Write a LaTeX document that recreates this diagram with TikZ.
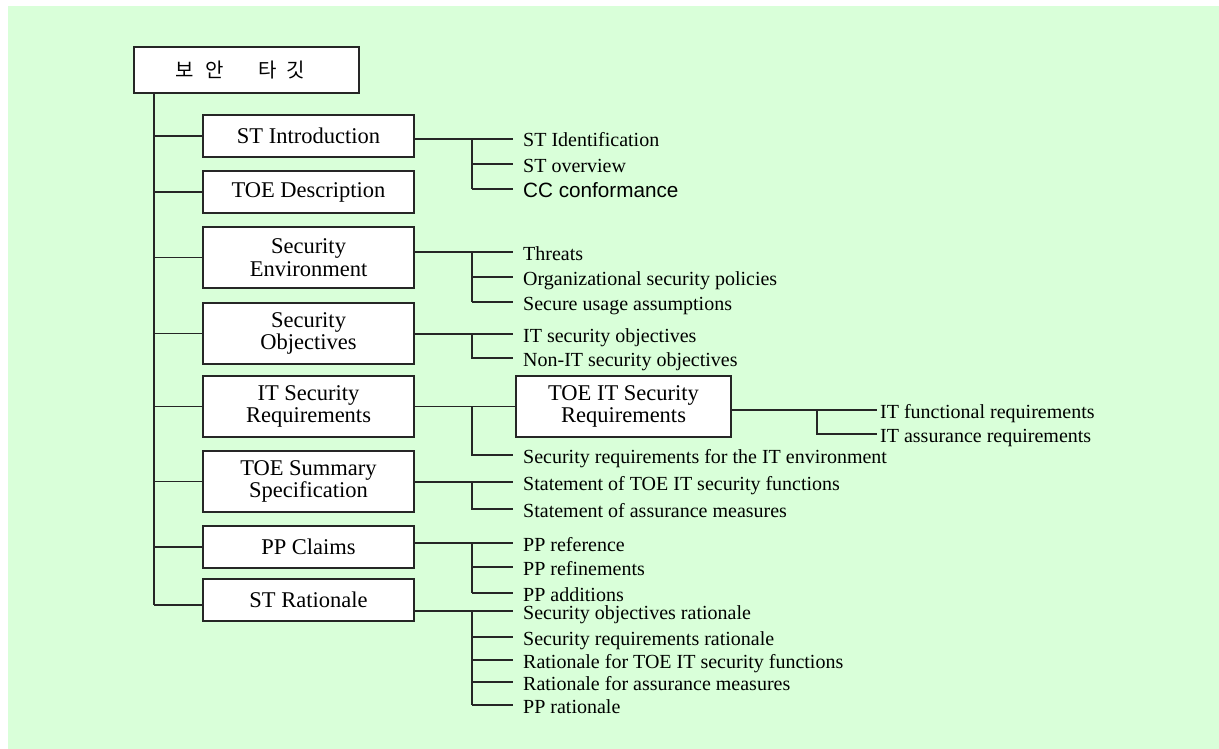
\documentclass[tikz,border=0pt]{standalone}
\usepackage{fontspec}
\setmainfont{Liberation Serif}
\newfontfamily\krfont{Noto Sans CJK KR}
\newfontfamily\sansfnt{Liberation Sans}
\definecolor{bggreen}{RGB}{217,255,217}
\begin{document}
\begin{tikzpicture}[x=1pt,y=-1pt,
  box/.style={draw=black!85, line width=1.2pt, fill=white, minimum width=211pt,
    minimum height=42pt, inner sep=0pt, align=center,
    font=\fontsize{22.5pt}{22.7pt}\selectfont},
  tall/.style={box, minimum height=61pt},
  item/.style={anchor=west, inner xsep=10pt, inner ysep=0pt, text height=18pt,
    text depth=2pt, font=\fontsize{20pt}{22pt}\selectfont},
  conn/.style={line width=1.2pt, draw=black!85}]

\useasboundingbox (0,0) rectangle (1219,749);
\fill[bggreen] (8,6) rectangle (1219,749);

% main boxes
\node[box, minimum width=225pt, minimum height=46pt,
  font=\krfont\fontsize{20pt}{22pt}\selectfont] (title) at (246.5,70)
  {보\hspace{11pt}안\hspace{35pt}타\hspace{10pt}깃\kern12pt};
\node[box]  (sti)   at (308.5,136)   {ST Introduction};
\node[box]  (toed)  at (308.5,192)   {TOE Description};
\node[tall] (senv)  at (308.5,257.5) {Security\\Environment};
\node[tall] (sobj)  at (308.5,333.5) {Security\\Objectives};
\node[tall] (itsr)  at (308.5,406.5) {IT Security\\Requirements};
\node[tall] (toess) at (308.5,481.5) {TOE Summary\\Specification};
\node[box]  (ppc)   at (308.5,547)   {PP Claims};
\node[box]  (str)   at (308.5,600)   {ST Rationale};
\node[tall, minimum width=215pt] (tit) at (623.5,406.5) {TOE IT Security\\Requirements};

% items
\node[item] (a1) at (513,139) {ST Identification};
\node[item] (a2) at (513,164) {ST overview};
\node[item, font=\sansfnt\fontsize{20.7pt}{22pt}\selectfont] (a3) at (513,189) {CC conformance};
\node[item] (b1) at (513,252) {Threats};
\node[item] (b2) at (513,277) {Organizational security policies};
\node[item] (b3) at (513,302) {Secure usage assumptions};
\node[item] (c1) at (513,334) {IT security objectives};
\node[item] (c2) at (513,358) {Non-IT security objectives};
\node[item] (d1) at (513,455) {Security requirements for the IT environment};
\node[item, inner xsep=3pt] (e1) at (877,410) {IT functional requirements};
\node[item, inner xsep=3pt] (e2) at (877,434) {IT assurance requirements};
\node[item] (g1) at (513,482) {Statement of TOE IT security functions};
\node[item] (g2) at (513,509) {Statement of assurance measures};
\node[item] (h1) at (513,543) {PP reference};
\node[item] (h2) at (513,567) {PP refinements};
\node[item] (h3) at (513,593) {PP additions};
\node[item] (k1) at (513,611) {Security objectives rationale};
\node[item] (k2) at (513,637) {Security requirements rationale};
\node[item] (k3) at (513,660) {Rationale for TOE IT security functions};
\node[item] (k4) at (513,682) {Rationale for assurance measures};
\node[item] (k5) at (513,705) {PP rationale};

% helper coordinates
\coordinate (trunk) at (154,0);
\coordinate (vx) at (472,0);
\coordinate (vy) at (817,0);
\coordinate (strl) at ([yshift=-5pt]str.west);

% trunk
\draw[conn] (trunk |- title.south) -- (trunk |- strl);
\foreach \n in {sti,toed,senv,sobj,itsr,toess,ppc}
  \draw[conn] (trunk |- \n.west) -- (\n.west);
\draw[conn] (trunk |- strl) -- (strl);

% ST Introduction
\draw[conn] (sti.east |- a1.west) -- (a1.west);
\draw[conn] (vx |- a1.west) -- (vx |- a3.west);
\foreach \c in {a2,a3} \draw[conn] (vx |- \c.west) -- (\c.west);

% Security Environment
\draw[conn] (senv.east |- b1.west) -- (b1.west);
\draw[conn] (vx |- b1.west) -- (vx |- b3.west);
\foreach \c in {b2,b3} \draw[conn] (vx |- \c.west) -- (\c.west);

% Security Objectives
\draw[conn] (sobj.east |- c1.west) -- (c1.west);
\draw[conn] (vx |- c1.west) -- (vx |- c2.west) -- (c2.west);

% IT Security Requirements
\draw[conn] (itsr.east) -- (tit.west);
\draw[conn] (vx |- itsr.east) -- (vx |- d1.west) -- (d1.west);

% TOE IT Security Requirements
\draw[conn] (tit.east |- e1.west) -- (e1.west);
\draw[conn] (vy |- e1.west) -- (vy |- e2.west) -- (e2.west);

% TOE Summary Specification
\draw[conn] (toess.east |- g1.west) -- (g1.west);
\draw[conn] (vx |- g1.west) -- (vx |- g2.west) -- (g2.west);

% PP Claims
\draw[conn] (ppc.east |- h1.west) -- (h1.west);
\draw[conn] (vx |- h1.west) -- (vx |- h3.west);
\foreach \c in {h2,h3} \draw[conn] (vx |- \c.west) -- (\c.west);

% ST Rationale
\draw[conn] (str.east |- k1.west) -- (k1.west);
\draw[conn] (vx |- k1.west) -- (vx |- k5.west);
\foreach \c in {k2,k3,k4,k5} \draw[conn] (vx |- \c.west) -- (\c.west);
\end{tikzpicture}
\end{document}
